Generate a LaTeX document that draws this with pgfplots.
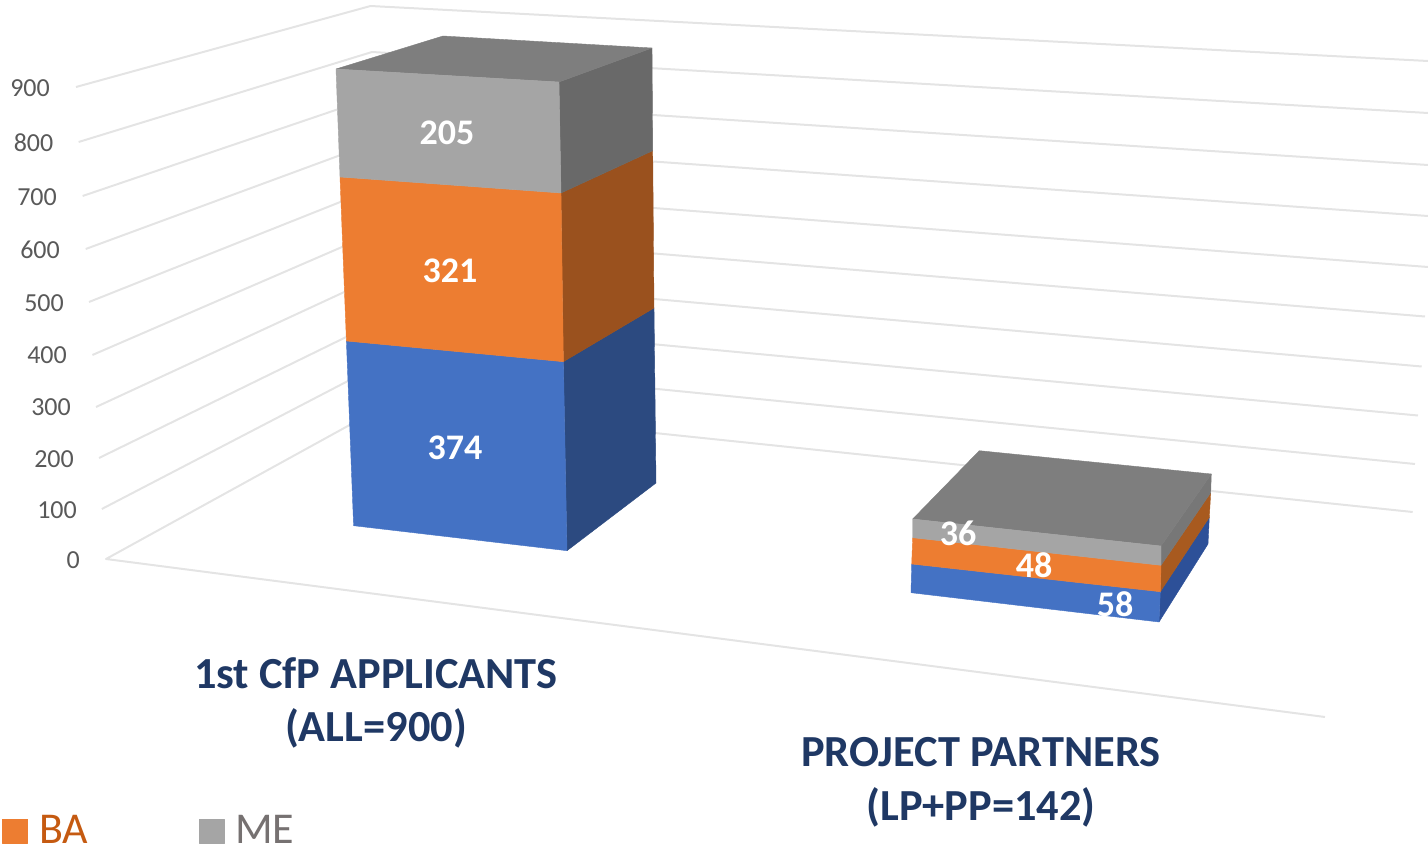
\documentclass[border=0pt]{standalone}
\usepackage{fontspec}
\setmainfont{Carlito}
\usepackage{pgfplots}
\pgfplotsset{compat=1.18}
\definecolor{gridc}{HTML}{E4E4E4}
\definecolor{bluef}{HTML}{4472C4}
\definecolor{blues}{HTML}{2C4A80}
\definecolor{orangef}{HTML}{ED7D31}
\definecolor{oranges}{HTML}{9A511E}
\definecolor{greyf}{HTML}{A5A5A5}
\definecolor{greys}{HTML}{696969}
\definecolor{greyt}{HTML}{7E7E7E}
\definecolor{blues2}{HTML}{2D5098}
\definecolor{oranges2}{HTML}{A85A1F}
\definecolor{greys2}{HTML}{777777}
\definecolor{tickc}{HTML}{595959}
\definecolor{catc}{HTML}{1F3864}
\definecolor{bac}{HTML}{C55A11}
\definecolor{mec}{HTML}{767171}
\newcommand{\fs}[1]{\fontsize{#1}{#1}\selectfont}
\tikzset{
  gl/.style={draw=gridc,line width=2pt,line join=round},
  face/.style={fill=#1,draw=#1,line width=0.4pt,line join=round},
  tk/.style={anchor=east,inner sep=0pt,text=tickc,font=\fs{26}},
  dl/.style={anchor=center,inner sep=0pt,text=white,font=\fs{36}\bfseries},
  cat/.style={anchor=center,inner sep=0pt,text=catc,font=\fs{44.4}\bfseries},
}
\begin{document}
\begin{tikzpicture}
\useasboundingbox (0,0) rectangle (1428pt,848pt);
\begin{axis}[
  at={(0,0)},anchor=south west,
  width=1428pt,height=848pt,scale only axis,
  xmin=0,xmax=1428,ymin=0,ymax=848,y dir=reverse,
  hide axis,clip=false,
]
% gridlines: side wall and back wall of the 3D box (900 down to 0)
\addplot[gl,no marks] coordinates {(76,87)(370.5,6)(1428,61)};
\addplot[gl,no marks] coordinates {(78.6,142)(372,52)(1428,113)};
\addplot[gl,no marks] coordinates {(82.6,196)(374,97)(1428,165)};
\addplot[gl,no marks] coordinates {(85.7,249)(376,142)(1428,216)};
\addplot[gl,no marks] coordinates {(89,302)(378,187)(1428,267)};
\addplot[gl,no marks] coordinates {(92.4,355)(379,231)(1425,316.5)};
\addplot[gl,no marks] coordinates {(96,407)(381,275)(1421.7,366.5)};
\addplot[gl,no marks] coordinates {(99,458)(383,319)(1418,415.5)};
\addplot[gl,no marks] coordinates {(101.8,509)(384.5,362)(1415,464)};
\addplot[gl,no marks] coordinates {(1325,717)(106,559)(386,405)(1412.7,512)};
% bar 1: 374 / 321 / 205
\addplot[face=blues,no marks] coordinates {(563.4,361.7)(654,308)(656,483)(567,550.7)} -- cycle;
\addplot[face=oranges,no marks] coordinates {(561,193)(652.7,150.7)(654,308)(563.4,361.7)} -- cycle;
\addplot[face=greys,no marks] coordinates {(559,82)(652,48)(652.7,150.7)(561,193)} -- cycle;
\addplot[face=greyt,no marks] coordinates {(336,69)(559,82)(652,48)(443,36)} -- cycle;
\addplot[face=bluef,no marks] coordinates {(346.4,341)(563.4,361.7)(567,550.7)(353.6,525.7)} -- cycle;
\addplot[face=orangef,no marks] coordinates {(340,177)(561,193)(563.4,361.7)(346.4,341)} -- cycle;
\addplot[face=greyf,no marks] coordinates {(336,69)(559,82)(561,193)(340,177)} -- cycle;
% bar 2: 58 / 48 / 36
\addplot[face=blues2,no marks] coordinates {(1160.3,591.7)(1209.3,517.3)(1208,544)(1159,622)} -- cycle;
\addplot[face=oranges2,no marks] coordinates {(1161,565.3)(1210.7,492.7)(1209.3,517.3)(1160.3,591.7)} -- cycle;
\addplot[face=greys2,no marks] coordinates {(1161,546)(1211.3,474)(1210.7,492.7)(1161,565.3)} -- cycle;
\addplot[face=greyt,no marks] coordinates {(912.7,519)(1161,546)(1211.3,474)(979.3,450.7)} -- cycle;
\addplot[face=bluef,no marks] coordinates {(911.7,564)(1160.3,591.7)(1159,622)(911,592.7)} -- cycle;
\addplot[face=orangef,no marks] coordinates {(912.7,537.7)(1161,565.3)(1160.3,591.7)(911.7,564)} -- cycle;
\addplot[face=greyf,no marks] coordinates {(912.7,519)(1161,546)(1161,565.3)(912.7,537.7)} -- cycle;
% legend keys
\addplot[face=orangef,no marks] coordinates {(2,819)(27.5,819)(27.5,843)(2,843)} -- cycle;
\addplot[face=greyf,no marks] coordinates {(199,819)(224,819)(224,843)(199,843)} -- cycle;
% y tick labels
\node[tk] at (axis cs:50,88) {900};
\node[tk] at (axis cs:53.5,143) {800};
\node[tk] at (axis cs:57,197) {700};
\node[tk] at (axis cs:60,250) {600};
\node[tk] at (axis cs:64,303) {500};
\node[tk] at (axis cs:67,355) {400};
\node[tk] at (axis cs:71,407) {300};
\node[tk] at (axis cs:74,459) {200};
\node[tk] at (axis cs:77,510) {100};
\node[tk] at (axis cs:80,560) {0};
% data labels
\node[dl] at (axis cs:447,133) {205};
\node[dl] at (axis cs:450,271) {321};
\node[dl] at (axis cs:455,448) {374};
\node[dl] at (axis cs:958,533) {36};
\node[dl] at (axis cs:1034,565) {48};
\node[dl] at (axis cs:1115,604) {58};
% category labels
\node[cat] at (axis cs:376,673) {1st CfP APPLICANTS};
\node[cat] at (axis cs:376,728) {(ALL=900)};
\node[cat] at (axis cs:981,752) {PROJECT PARTNERS};
\node[cat] at (axis cs:981,807) {(LP+PP=142)};
% legend text
\node[anchor=base west,inner sep=0pt,text=bac,font=\fs{44}] at (axis cs:39,843.5) {BA};
\node[anchor=base west,inner sep=0pt,text=mec,font=\fs{44}] at (axis cs:235,843.5) {ME};
\end{axis}
\end{tikzpicture}
\end{document}
